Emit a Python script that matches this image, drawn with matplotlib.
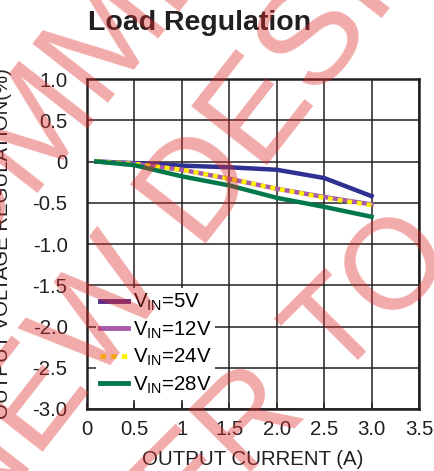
import numpy as np
import matplotlib
matplotlib.use("Agg")
import matplotlib.pyplot as plt
from matplotlib.lines import Line2D

plt.rcParams['font.family'] = 'Liberation Sans'
plt.rcParams['mathtext.fontset'] = 'custom'
plt.rcParams['mathtext.rm'] = 'Liberation Sans'
plt.rcParams['mathtext.it'] = 'Liberation Sans:italic'
plt.rcParams['mathtext.bf'] = 'Liberation Sans:bold'

# data
current = [0.1, 0.5, 1.0, 1.5, 2.0, 2.5, 3.0]
reg_5v = [0.0, -0.02, -0.05, -0.07, -0.10, -0.20, -0.42]
reg_12v = [0.0, -0.03, -0.10, -0.21, -0.33, -0.43, -0.52]
reg_24v = [0.0, -0.03, -0.10, -0.21, -0.33, -0.44, -0.53]
reg_28v = [0.0, -0.045, -0.18, -0.29, -0.44, -0.55, -0.67]

series_labels = [r'V$_{\mathrm{IN}}$=5V', r'V$_{\mathrm{IN}}$=12V',
                 r'V$_{\mathrm{IN}}$=24V', r'V$_{\mathrm{IN}}$=28V']
xticks = [0, 0.5, 1.0, 1.5, 2.0, 2.5, 3.0, 3.5]
xticklabels = ['0', '0.5', '1', '1.5', '2.0', '2.5', '3.0', '3.5']
yticks = [-3.0, -2.5, -2.0, -1.5, -1.0, -0.5, 0, 0.5, 1.0]
yticklabels = ['-3.0', '-2.5', '-2.0', '-1.5', '-1.0', '-0.5', '0', '0.5', '1.0']

W, H = 434, 471
ink = '#231f20'
c5, c12, c24, c28 = '#2e3192', '#a85aab', '#fff200', '#00784a'

fig = plt.figure(figsize=(W / 100, H / 100), dpi=100)
ax = fig.add_axes([87 / W, 1 - 409 / H, 332 / W, 330 / H])

ax.plot(current, reg_5v, color=c5, lw=3.2)
ax.plot(current, reg_12v, color=c12, lw=3.2)
ax.plot(current, reg_24v, color=c24, lw=3.2, dashes=(1.1, 1.1))
ax.plot(current, reg_28v, color=c28, lw=3.2)

ax.set_xlim(0, 3.5)
ax.set_ylim(-3, 1)
ax.set_xticks(xticks)
ax.set_xticklabels(xticklabels)
ax.set_yticks(yticks)
ax.set_yticklabels(yticklabels)
ax.grid(True, color=ink, lw=1.1)
ax.set_axisbelow(True)
for s in ax.spines.values():
    s.set_linewidth(1.8)
    s.set_color(ink)
ax.tick_params(axis='x', direction='in', length=4.5, width=1.1, pad=8,
               labelsize=14.7, color=ink, labelcolor=ink)
ax.tick_params(axis='y', length=0, pad=14, labelsize=14.7, labelcolor=ink)

handles = [Line2D([], [], color='#5b2d86', lw=3.5),
           Line2D([], [], color=c12, lw=3.5),
           Line2D([], [], color=c24, lw=3.5, dashes=(1.1, 1.1)),
           Line2D([], [], color=c28, lw=3.5)]
ax.legend(handles, series_labels, loc='upper left', bbox_to_anchor=(0.027, 0.367),
          borderaxespad=0, fontsize=14.7, fancybox=False, edgecolor='none',
          facecolor='white', framealpha=1, handlelength=1.35, handletextpad=0.25,
          labelspacing=0.3, borderpad=0.2)

fig.text(88 / W, 1 - 30 / H, 'Load Regulation', fontsize=20.5, fontweight='bold',
         ha='left', va='baseline', color=ink)
fig.text(253 / W, 1 - 465 / H, 'OUTPUT CURRENT (A)', fontsize=14.7,
         ha='center', va='baseline', color=ink)
fig.text(8 / W, 1 - 244 / H, 'OUTPUT VOLTAGE REGULATION(%)', fontsize=14.7,
         rotation=90, rotation_mode='anchor', ha='center', va='baseline', color=ink)

# red "not recommended" watermark across the chart
def stamp(x, y, text, angle, size, ha):
    fig.text(x / W, 1 - y / H, text, rotation=angle, rotation_mode='anchor',
             ha=ha, va='baseline', fontsize=size, color='#e02b2b', alpha=0.4, zorder=10)

stamp(27, 193, 'MMENDED', 52, 100, 'left')
stamp(27, 193, 'NOT RECO', 52, 100, 'right')
stamp(195, 243, 'DESIGNS', 52, 100, 'left')
stamp(170, 275, 'NEW', 52, 100, 'right')
stamp(333, 381, 'TO', 45, 92, 'left')
stamp(307, 407, 'REFER', 45, 92, 'right')

fig.savefig('out.png', dpi=100)
